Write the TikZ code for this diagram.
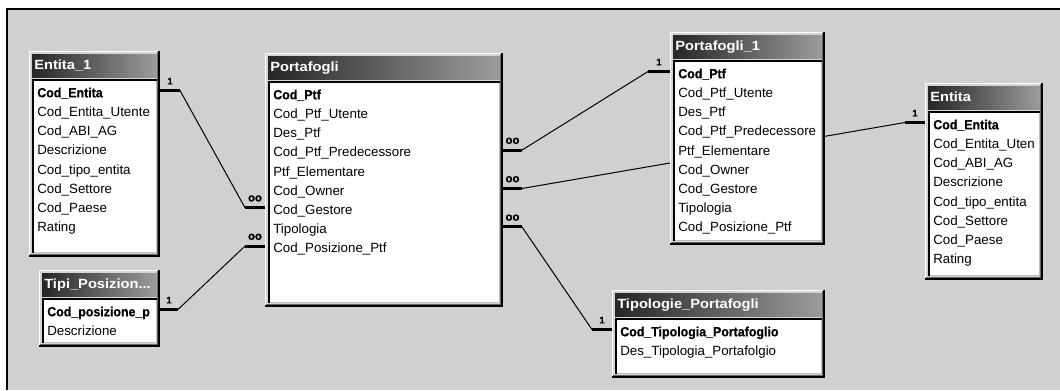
\documentclass[tikz,border=0pt]{standalone}
\usepackage{fontspec}
\setmainfont{Liberation Sans}
\newfontfamily\ttlfont[FakeStretch=1.1]{Liberation Sans Bold}
\newfontfamily\keyfont[FakeStretch=0.93,FakeBold=0.6]{Liberation Sans Bold}
\newfontfamily\lblfont[FakeBold=1.5]{Liberation Sans Bold}
\definecolor{deskgray}{HTML}{D0D0D0}
\definecolor{facegray}{HTML}{D4D4D4}
\definecolor{barleft}{HTML}{262626}
\definecolor{barright}{HTML}{9C9C9C}
\pgfdeclarelayer{back}
\pgfdeclarelayer{links}
\pgfsetlayers{back,links,main}
\tikzset{
  tblframe/.style={draw=none, fill=facegray, inner sep=0pt, outer sep=0pt},
  titlebar/.style={left color=barleft, right color=barright, draw=none, inner sep=0pt, outer sep=0pt},
  titletext/.style={text=white, font=\ttlfont\fontsize{10}{12}\selectfont, inner sep=0pt,
    text height=7.2pt, text depth=0pt, anchor=west},
  listbox/.style={fill=white, draw=none, inner sep=0pt, outer sep=0pt},
  rowtext/.style={font=\fontsize{10}{12}\selectfont, inner sep=0pt, text height=7.2pt,
    text depth=0pt, anchor=west},
  keytext/.style={rowtext, font=\keyfont\fontsize{10}{12}\selectfont},
  stub/.style={line width=2.25pt, line cap=butt},
  link/.style={line width=0.75pt},
  onelbl/.style={above=3.5pt, inner sep=0pt, font=\lblfont\fontsize{7}{7}\selectfont},
  manylbl/.style={above=3.5pt, inner sep=0pt, font=\lblfont\fontsize{8.5}{8.5}\selectfont},
}
% #1 name, #2 left, #3 top, #4 right, #5 bottom (pixels), #6 title, #7 field list (first is the key)
\newcommand\ertable[7]{%
  \node[tblframe, anchor=north west, minimum width={(#4-#2)*0.75pt},
        minimum height={(#5-#3)*0.75pt}] (#1) at (#2,#3) {};
  \draw[white, line width=0.75pt] (#2+0.5,#5-1) -- (#2+0.5,#3+0.5) -- (#4-1,#3+0.5);
  \draw[black!60, line width=0.75pt] (#2+1,#5-2.5) -- (#4-2.5,#5-2.5) -- (#4-2.5,#3+1);
  \draw[black, line width=1.5pt] (#2,#5-1) -- (#4-1,#5-1) -- (#4-1,#3);
  \node[titlebar, anchor=north west, minimum width={(#4-#2-6)*0.75pt},
        minimum height=17.25pt] (#1-bar) at (#2+3,#3+3) {};
  \node[titletext] (#1-name) at (#2+5,#3+13.5) {#6};
  \node[listbox, anchor=north west, minimum width={(#4-#2-6)*0.75pt},
        minimum height={(#5-#3-32)*0.75pt}] (#1-list) at (#2+3,#3+28) {};
  \draw[black!25, line width=0.75pt] (#2+3,#5-4.5) -- (#4-3.5,#5-4.5) -- (#4-3.5,#3+28);
  \draw[black, line width=1.5pt] (#2+4,#5-4) -- (#2+4,#3+29) -- (#4-3,#3+29);
  \foreach \txt [count=\i] in {#7} {%
    \ifnum\i=1
      \node[keytext] (#1-r\i) at (#2+8,#3+41.5) {\txt};
    \else
      \node[rowtext] (#1-r\i) at (#2+8,{#3+41.5+(\i-1)*19.2}) {\txt};
    \fi
  }%
}
\begin{document}
\catcode`\_=12
\begin{tikzpicture}[x=0.75pt, y=-0.75pt]
\useasboundingbox (0,0) rectangle (1060,390);

% desktop area with its frame
\begin{pgfonlayer}{back}
  \fill[white] (0,0) rectangle (1060,390);
  \fill[deskgray] (7,9) rectangle (1060,390);
  \draw[black, line width=1.5pt] (7,390) -- (7,9) -- (1060,9);
\end{pgfonlayer}

% tables
\ertable{e1}{29}{51}{160}{257}{Entita_1}%
  {Cod_Entita,Cod_Entita_Utente,Cod_ABI_AG,Descrizione,Cod_tipo_entita,Cod_Settore,Cod_Paese,Rating}
\ertable{tp}{39}{270}{160}{347}{Tipi_Posizion...}%
  {Cod_posizione_p,Descrizione}
\ertable{pf}{265}{53}{503}{307}{Portafogli}%
  {Cod_Ptf,Cod_Ptf_Utente,Des_Ptf,Cod_Ptf_Predecessore,Ptf_Elementare,Cod_Owner,Cod_Gestore,Tipologia,Cod_Posizione_Ptf}
\ertable{pf1}{670}{32}{825}{245}{Portafogli_1}%
  {Cod_Ptf,Cod_Ptf_Utente,Des_Ptf,Cod_Ptf_Predecessore,Ptf_Elementare,Cod_Owner,Cod_Gestore,Tipologia,Cod_Posizione_Ptf}
\ertable{en}{925}{83}{1043}{280}{Entita}%
  {Cod_Entita,Cod_Entita_Uten,Cod_ABI_AG,Descrizione,Cod_tipo_entita,Cod_Settore,Cod_Paese,Rating}
\ertable{tip}{612}{290}{825}{378}{Tipologie_Portafogli}%
  {Cod_Tipologia_Portafoglio,Des_Tipologia_Portafolgio}

% relationships: "1" stub on the key side, "oo" stub on the many side
\begin{pgfonlayer}{links}
  % Entita_1.Cod_Entita -- Portafogli.Cod_Gestore
  \coordinate[yshift=1.5pt] (l1a) at (e1.east |- e1-r1);
  \coordinate[yshift=1.5pt] (l1b) at (pf.west |- pf-r7);
  \draw[stub] (l1a) -- node[onelbl]{1} ++(20,0) coordinate (l1c);
  \draw[stub] (l1b) -- node[manylbl]{oo} ++(-20,0) coordinate (l1d);
  \draw[link] (l1c) -- (l1d);
  % Tipi_Posizioni.Cod_posizione_ptf -- Portafogli.Cod_Posizione_Ptf
  \coordinate[yshift=1.5pt] (l2a) at (tp.east |- tp-r1);
  \coordinate[yshift=1.5pt] (l2b) at (pf.west |- pf-r9);
  \draw[stub] (l2a) -- node[onelbl]{1} ++(18,0) coordinate (l2c);
  \draw[stub] (l2b) -- node[manylbl]{oo} ++(-20,0) coordinate (l2d);
  \draw[link] (l2c) -- (l2d);
  % Portafogli.Cod_Ptf_Predecessore -- Portafogli_1.Cod_Ptf
  \coordinate[yshift=1.5pt] (l3a) at (pf.east |- pf-r4);
  \coordinate[yshift=1.5pt] (l3b) at (pf1.west |- pf1-r1);
  \draw[stub] (l3a) -- node[manylbl]{oo} ++(19,0) coordinate (l3c);
  \draw[stub] (l3b) -- node[onelbl]{1} ++(-22,0) coordinate (l3d);
  \draw[link] (l3c) -- (l3d);
  % Portafogli.Cod_Owner -- Entita.Cod_Entita
  \coordinate[yshift=1.5pt] (l4a) at (pf.east |- pf-r6);
  \coordinate[yshift=1.5pt] (l4b) at (en.west |- en-r1);
  \draw[stub] (l4a) -- node[manylbl]{oo} ++(19,0) coordinate (l4c);
  \draw[stub] (l4b) -- node[onelbl]{1} ++(-20,0) coordinate (l4d);
  \draw[link] (l4c) -- (l4d);
  % Portafogli.Tipologia -- Tipologie_Portafogli.Cod_Tipologia_Portafoglio
  \coordinate[yshift=1.5pt] (l5a) at (pf.east |- pf-r8);
  \coordinate[yshift=1.5pt] (l5b) at (tip.west |- tip-r1);
  \draw[stub] (l5a) -- node[manylbl]{oo} ++(19,0) coordinate (l5c);
  \draw[stub] (l5b) -- node[onelbl]{1} ++(-20,0) coordinate (l5d);
  \draw[link] (l5c) -- (l5d);
\end{pgfonlayer}
\end{tikzpicture}
\end{document}
